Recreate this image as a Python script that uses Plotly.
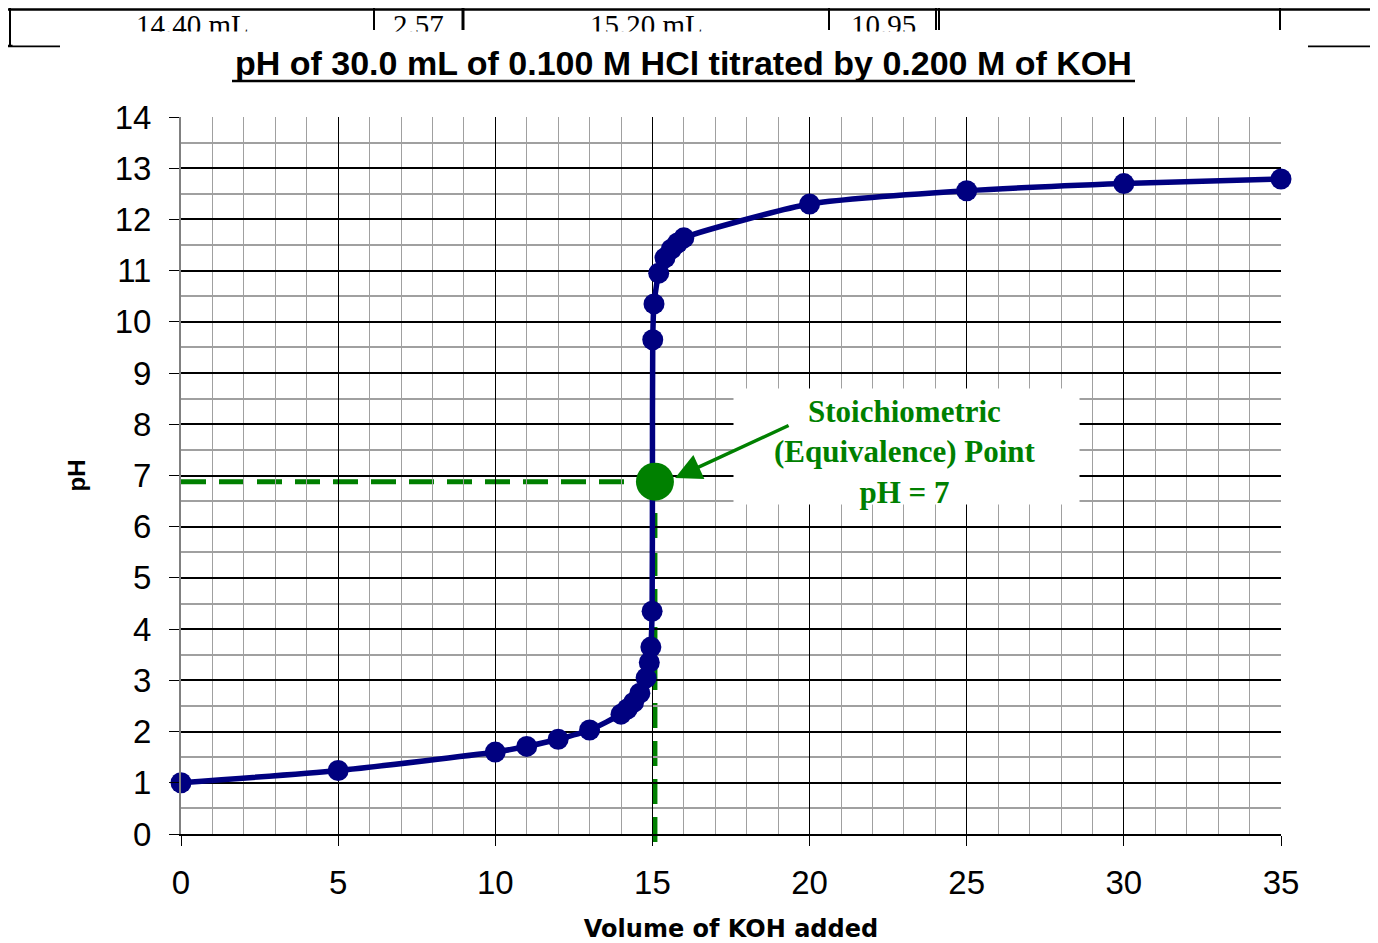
import plotly.graph_objects as go

# titration data: volume of KOH (mL) vs pH
volume = [0, 5, 10, 11, 12, 13, 14, 14.2, 14.4, 14.6, 14.8, 14.9, 14.95, 14.99, 15.0,
          15.01, 15.05, 15.2, 15.4, 15.6, 15.8, 16, 20, 25, 30, 35]
ph = [1.00, 1.24, 1.60, 1.71, 1.85, 2.03, 2.34, 2.44, 2.57, 2.75, 3.05, 3.35, 3.65, 4.35, 7.00,
      9.65, 10.35, 10.95, 11.25, 11.42, 11.54, 11.64, 12.30, 12.56, 12.70, 12.79]

# equivalence point as drawn
eq_x = 15.08
eq_y = 6.88

# clipped table row above the chart
table_text = ["14.40 mL", "2.57", "15.20 mL", "10.95"]
table_cell_centers = [192, 418, 646, 883]

# the page body adds an 8px margin, so the figure sits at (8, 8)
OFF = 8
PAGE_W, PAGE_H = 1378, 943
W, H = PAGE_W - OFF, PAGE_H - OFF
# plot box in page pixels
L, R, T, B = 181, 1281, 117, 834


def px(x):
    return (x - L) / (R - L)


def py(y):
    return (B - y) / (B - T)


navy = "#000080"
green = "#008000"

fig = go.Figure()

fig.add_trace(go.Scatter(
    x=volume, y=ph, mode="lines+markers",
    line=dict(color=navy, width=5.5, shape="spline", smoothing=0.6),
    marker=dict(color=navy, size=21),
    cliponaxis=False, showlegend=False))

fig.add_trace(go.Scatter(
    x=[eq_x], y=[eq_y], mode="markers",
    marker=dict(color=green, size=38),
    cliponaxis=False, showlegend=False))

shapes = []
# dashed guide lines to the equivalence point
shapes.append(dict(type="line", xref="x", yref="y", x0=0, x1=eq_x, y0=eq_y, y1=eq_y,
                   line=dict(color=green, width=5, dash="25px,13px"), layer="below"))
shapes.append(dict(type="line", xref="x", yref="paper", x0=eq_x, x1=eq_x, y0=py(842), y1=py(482),
                   line=dict(color=green, width=5, dash="25px,13px"), layer="below"))

# title underline
shapes.append(dict(type="line", xref="paper", yref="paper", x0=px(232), x1=px(1135),
                   y0=py(81), y1=py(81), line=dict(color="black", width=2.5)))


# table fragment lines
def hline(x0, x1, y, w=2.5):
    shapes.append(dict(type="line", xref="paper", yref="paper", x0=px(x0), x1=px(x1),
                       y0=py(y), y1=py(y), line=dict(color="black", width=w)))


def vline(x, y0, y1, w=2):
    shapes.append(dict(type="line", xref="paper", yref="paper", x0=px(x), x1=px(x),
                       y0=py(y0), y1=py(y1), line=dict(color="black", width=w)))


hline(8, 1378, 9.5)
hline(8, 60, 46)
hline(1308, 1378, 46)
vline(10, 8, 46)
vline(374, 8, 30)
vline(463, 8, 30, 3)
vline(829, 8, 30)
vline(936, 8, 30)
vline(939, 8, 30)
vline(1280, 8, 30)

annotations = []
for t, cx in zip(table_text, table_cell_centers):
    annotations.append(dict(text=t, xref="paper", yref="paper", x=px(cx), y=py(36),
                            xanchor="center", yanchor="bottom", yshift=-7, showarrow=False,
                            font=dict(family="Liberation Serif, Times New Roman", size=29, color="black")))
# white strip hiding the lower half of the table text
annotations.append(dict(text="", xref="paper", yref="paper", x=px(12), y=py(30.5),
                        xanchor="left", yanchor="top", width=1360, height=13, borderpad=0,
                        bgcolor="white", showarrow=False))

# title
annotations.append(dict(text="<b>pH of 30.0 mL of 0.100 M HCl titrated by 0.200 M of KOH</b>",
                        xref="paper", yref="paper", x=px(683), y=py(63), xanchor="center",
                        yanchor="middle", showarrow=False,
                        font=dict(family="Liberation Sans, Arial", size=34, color="black")))

# label box
annotations.append(dict(text="", xref="paper", yref="paper", x=px(733), y=py(388),
                        xanchor="left", yanchor="top", width=345, height=115, borderpad=0,
                        bgcolor="white", showarrow=False))
annotations.append(dict(text="<b>Stoichiometric<br>(Equivalence) Point<br>pH = 7</b>",
                        xref="paper", yref="paper", x=px(905), y=py(452), xanchor="center",
                        yanchor="middle", showarrow=False, align="center",
                        font=dict(family="Liberation Serif, Times New Roman", size=31, color=green)))
# arrow
annotations.append(dict(text="", x=15.72, y=6.95, ax=19.38, ay=7.99, xref="x", yref="y",
                        axref="x", ayref="y", showarrow=True, arrowhead=2, arrowsize=1.5,
                        arrowwidth=3.5, arrowcolor=green))

fig.update_layout(
    width=W, height=H,
    margin=dict(l=L - OFF, r=PAGE_W - R, t=T - OFF, b=PAGE_H - B, autoexpand=False),
    plot_bgcolor="white", paper_bgcolor="white",
    shapes=shapes, annotations=annotations,
    font=dict(family="Liberation Sans, Arial", color="black"),
)

fig.update_xaxes(
    range=[0, 35], dtick=5, tick0=0,
    showgrid=True, gridcolor="black", gridwidth=1,
    minor=dict(dtick=1, showgrid=True, gridcolor="#a0a0a0", gridwidth=1),
    ticks="outside", ticklen=10, tickcolor="black", tickwidth=1,
    showline=True, linecolor="black", linewidth=1.5, zeroline=False,
    tickfont=dict(size=33), ticklabelstandoff=9,
    title=dict(text="<b>Volume of KOH added</b>", standoff=22,
               font=dict(family="DejaVu Sans", size=24)),
)
fig.update_yaxes(
    range=[0, 14], dtick=1, tick0=0,
    showgrid=True, gridcolor="black", gridwidth=2,
    minor=dict(dtick=0.5, showgrid=True, gridcolor="#a0a0a0", gridwidth=2),
    ticks="outside", ticklen=10, tickcolor="black", tickwidth=1,
    showline=True, linecolor="#808080", linewidth=2, zeroline=False,
    tickfont=dict(size=33), ticklabelstandoff=11,
    title=dict(text="<b>pH</b>", standoff=22, font=dict(size=24)),
)

fig.write_html("out.html")
